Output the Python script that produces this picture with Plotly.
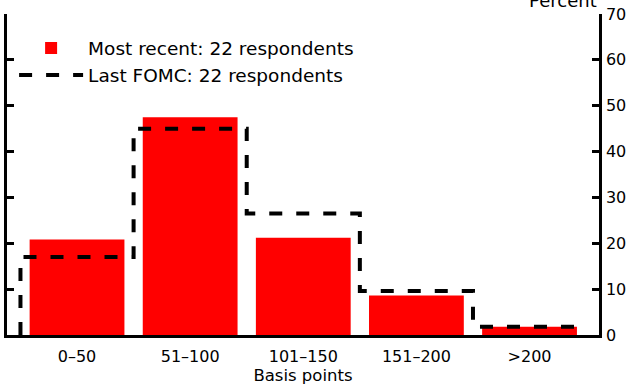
import plotly.graph_objects as go

categories = ["0\u201350", "51\u2013100", "101\u2013150", "151\u2013200", ">200"]
most_recent = [20.8, 47.5, 21.2, 8.6, 1.8]
last_fomc = [17.0, 45.0, 26.5, 9.6, 1.8]
y_ticks = [0, 10, 20, 30, 40, 50, 60, 70]

FONT = "DejaVu Sans"
idx = list(range(len(categories)))

# step outline for the previous survey: rises from 0 on the left edge of the first bin
step_x = [idx[0] - 0.5] + [i + 0.5 for i in idx]
step_y = [0] + last_fomc

fig = go.Figure()

fig.add_trace(go.Bar(
    x=idx,
    y=most_recent,
    name="Most recent: 22 respondents",
    marker=dict(color="#ff0000", line_width=0),
))

fig.add_trace(go.Scatter(
    x=step_x,
    y=step_y,
    mode="lines",
    line=dict(color="black", width=4, dash="13px,14px", shape="vh"),
    name="Last FOMC: 22 respondents",
))

fig.update_layout(
    width=629,
    height=385,
    margin=dict(l=7, r=30, t=14, b=50),
    paper_bgcolor="white",
    plot_bgcolor="white",
    bargap=0.162,
    font=dict(family=FONT, size=16, color="black"),
    showlegend=True,
    legend=dict(
        x=0.012, y=0.952, xanchor="left", yanchor="top",
        bgcolor="rgba(0,0,0,0)",
        font=dict(size=18.5, family=FONT),
        itemwidth=64,
        tracegroupgap=0,
    ),
    xaxis=dict(
        range=[-0.619, 4.614],
        tickvals=idx,
        ticktext=categories,
        showline=True, linecolor="black", linewidth=2.5,
        ticks="", showgrid=False, zeroline=False,
        automargin=False,
        ticklabelstandoff=5,
        title=dict(text="Basis points", font=dict(size=16.5), standoff=8),
    ),
    yaxis=dict(
        range=[0, 70],
        tickvals=y_ticks,
        side="right",
        showline=True, linecolor="black", linewidth=2.5,
        mirror="ticks",
        ticks="inside", ticklen=7, tickwidth=2.5, tickcolor="black",
        showgrid=False, zeroline=False,
        automargin=False,
        ticklabelstandoff=1,
        ticklabeloverflow="allow",
    ),
)

fig.add_annotation(
    text="Percent", xref="paper", yref="paper",
    x=1.0, y=1.0, xanchor="right", yanchor="bottom",
    yshift=1, showarrow=False, font=dict(size=18, family=FONT),
)

# drop the default 8px body margin so the figure sits at the page corner
fig.write_html(
    "out.html",
    config={"displayModeBar": False},
    post_script="document.body.style.margin = '0px';",
)
